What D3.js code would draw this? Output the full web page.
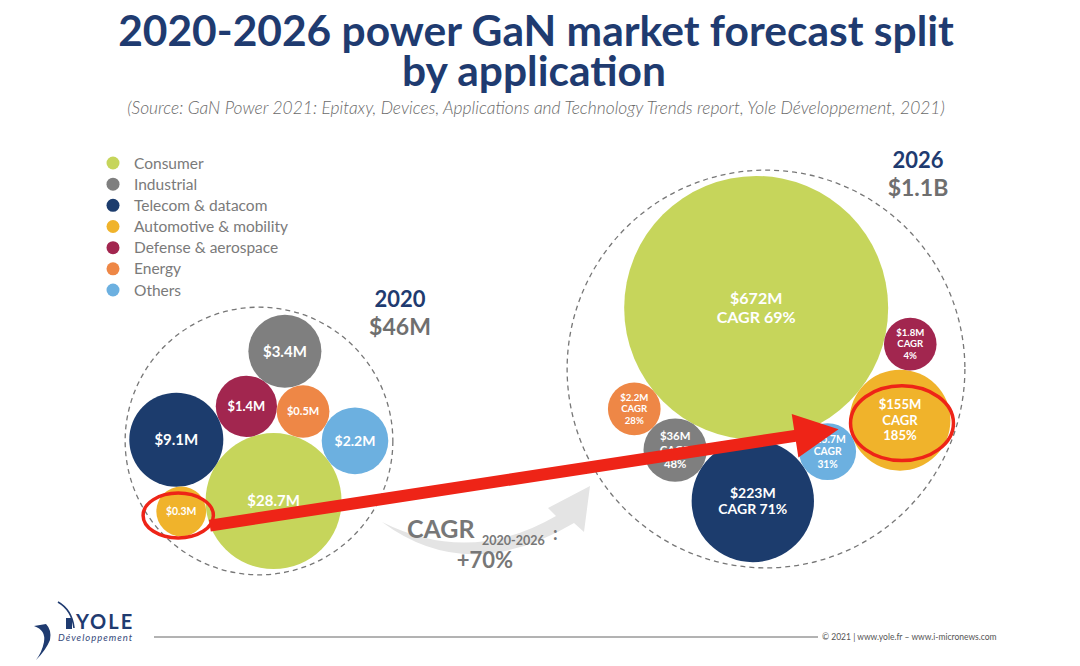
<!DOCTYPE html>
<html>
<head>
<meta charset="utf-8">
<script src="https://cdn.jsdelivr.net/npm/d3@7"></script>
<style>
  body { margin: 0; background: #fff; }
  svg { display: block; font-family: Lato, "Open Sans", sans-serif; }
</style>
</head>
<body>
<script>
const width = 1080;
const height = 666;

// data
const categories = [
  'Consumer',
  'Industrial',
  'Telecom & datacom',
  'Automotive & mobility',
  'Defense & aerospace',
  'Energy',
  'Others'
];
const values2020 = [28.7, 3.4, 9.1, 0.3, 1.4, 0.5, 2.2];   // $M
const values2026 = [672, 36, 223, 155, 1.8, 2.2, 15.7];   // $M
const cagr2026 = [69, 48, 71, 185, 4, 28, 31];            // % (Industrial hidden under the arrow, estimated)
const years = ['2020', '2026'];
const totals = ['$46M', '$1.1B'];
const cagrPeriod = '2020-2026';
const cagrTotal = '+70%';

const colors = ['#c6d55b', '#7f7f7f', '#1c3c6d', '#f0b32b', '#a2264f', '#ee8746', '#6cb0e0'];
const navy = '#1f3b70';
const grey = '#6f6f6f';

const svg = d3.select('body')
  .append('svg')
  .attr('width', width)
  .attr('height', height);

// ---- title ----
function fitText(sel, target) {
  const fs = parseFloat(sel.attr('font-size'));
  const w = sel.node().getComputedTextLength();
  sel.attr('font-size', fs * target / w);
  return fs * target / w;
}

const t1 = svg.append('text')
  .attr('x', 536).attr('y', 46)
  .attr('text-anchor', 'middle')
  .attr('font-size', 38).attr('font-weight', 700)
  .attr('fill', navy)
  .text('2020-2026 power GaN market forecast split');
const titleSize = fitText(t1, 836);

svg.append('text')
  .attr('x', 534).attr('y', 86)
  .attr('text-anchor', 'middle')
  .attr('font-size', titleSize).attr('font-weight', 700)
  .attr('fill', navy)
  .text('by application');

const sub = svg.append('text')
  .attr('x', 536).attr('y', 114)
  .attr('text-anchor', 'middle')
  .attr('font-size', 16).attr('font-style', 'italic').attr('font-weight', 300)
  .attr('fill', '#6a6a6a')
  .text('(Source: GaN Power 2021: Epitaxy, Devices, Applications and Technology Trends report, Yole Développement, 2021)');
fitText(sub, 818);

// ---- legend ----
const legendY = d3.scaleLinear().domain([0, categories.length - 1]).range([163, 290]);
const legend = svg.append('g');
legend.selectAll('circle')
  .data(categories)
  .enter()
  .append('circle')
  .attr('cx', 113)
  .attr('cy', (d, i) => legendY(i))
  .attr('r', 6.5)
  .attr('fill', (d, i) => colors[i]);
legend.selectAll('text')
  .data(categories)
  .enter()
  .append('text')
  .attr('x', 134)
  .attr('y', (d, i) => legendY(i))
  .attr('dy', '0.36em')
  .attr('font-size', 15.5)
  .attr('fill', '#7a7a7a')
  .text(d => d);

// ---- gray swoosh + CAGR ----
svg.append('path')
  .attr('d', 'M382,522 Q470,566 556,516 L548,508 L590,486 L584,532 L574,523 Q468,586 382,522 Z')
  .attr('fill', '#e4e4e4');

svg.append('text')
  .attr('x', 407).attr('y', 538)
  .attr('font-size', 25).attr('font-weight', 700).attr('fill', '#777')
  .text('CAGR');
svg.append('text')
  .attr('x', 482).attr('y', 545)
  .attr('font-size', 12.5).attr('font-weight', 700).attr('fill', '#777')
  .text(cagrPeriod);
svg.append('text')
  .attr('x', 553).attr('y', 540)
  .attr('font-size', 18).attr('font-weight', 700).attr('fill', '#777')
  .text(':');
svg.append('text')
  .attr('x', 485).attr('y', 568)
  .attr('text-anchor', 'middle')
  .attr('font-size', 22).attr('font-weight', 700).attr('fill', '#777')
  .text(cagrTotal);

// ---- bubble clusters ----
const rScale2020 = d3.scaleSqrt().domain([0, d3.max(values2020)]).range([20, 68]);
const rScale2026 = d3.scaleLinear().domain([0, d3.max(values2026)]).range([26, 132]);

// pack order + rotation decide the arrangement of each cluster
const clusters = [
  { values: values2020, rScale: rScale2020, order: [0, 4, 5, 2, 6, 3, 1], angle: -106, cx: 259, cy: 441, pad: 4 },
  { values: values2026, rScale: rScale2026, order: [0, 2, 1, 6, 3, 5, 4], angle: 91, cx: 766, cy: 369, pad: 5 }
];

clusters.forEach(function (c) {
  const nodes = c.order.map(function (i) {
    return { i: i, value: c.values[i], r: c.rScale(c.values[i]) };
  });
  d3.packSiblings(nodes);
  const enc = d3.packEnclose(nodes);
  const a = c.angle * Math.PI / 180;
  nodes.forEach(function (d) {
    const x = d.x - enc.x, y = d.y - enc.y;
    d.px = c.cx + x * Math.cos(a) - y * Math.sin(a);
    d.py = c.cy + x * Math.sin(a) + y * Math.cos(a);
  });
  c.nodes = nodes;
  c.r = enc.r + c.pad;
});

clusters.forEach(function (c) {
  svg.append('circle')
    .attr('cx', c.cx).attr('cy', c.cy).attr('r', c.r)
    .attr('fill', 'none')
    .attr('stroke', '#777')
    .attr('stroke-width', 1.3)
    .attr('stroke-dasharray', '5,4');
});

function money(v) {
  return '$' + v + 'M';
}

// 2020
const g2020 = svg.append('g');
g2020.selectAll('circle')
  .data(clusters[0].nodes)
  .enter()
  .append('circle')
  .attr('cx', d => d.px)
  .attr('cy', d => d.py)
  .attr('r', d => d.r)
  .attr('fill', d => colors[d.i]);
g2020.selectAll('text')
  .data(clusters[0].nodes)
  .enter()
  .append('text')
  .attr('x', d => d.px)
  .attr('y', d => d.py)
  .attr('dy', '0.35em')
  .attr('text-anchor', 'middle')
  .attr('font-weight', 700)
  .attr('font-size', d => Math.min(15, d.r * 0.42))
  .attr('fill', '#fff')
  .text(d => money(d.value));

// 2026
const fontScale = d3.scaleLinear().domain([26, 32, 61, 132]).range([9.5, 11.5, 14, 16]).clamp(true);
const g2026 = svg.append('g');
g2026.selectAll('circle')
  .data(clusters[1].nodes)
  .enter()
  .append('circle')
  .attr('cx', d => d.px)
  .attr('cy', d => d.py)
  .attr('r', d => d.r)
  .attr('fill', d => colors[d.i]);
const labels2026 = g2026.selectAll('text')
  .data(clusters[1].nodes)
  .enter()
  .append('text')
  .attr('text-anchor', 'middle')
  .attr('font-weight', 700)
  .attr('font-size', d => fontScale(d.r))
  .attr('fill', '#fff');
labels2026.each(function (d) {
  const lines = d.r > 55
    ? [money(d.value), 'CAGR ' + cagr2026[d.i] + '%']
    : [money(d.value), 'CAGR', cagr2026[d.i] + '%'];
  const lh = 1.2;
  d3.select(this).selectAll('tspan')
    .data(lines)
    .enter()
    .append('tspan')
    .attr('x', d.px)
    .attr('y', d.py)
    .attr('dy', (l, k) => ((k - (lines.length - 1) / 2) * lh + 0.35) + 'em')
    .text(l => l);
});

// year labels
const yearPos = [[400, 307], [918, 168]];
years.forEach(function (y, k) {
  svg.append('text')
    .attr('x', yearPos[k][0]).attr('y', yearPos[k][1])
    .attr('text-anchor', 'middle')
    .attr('font-size', 22).attr('font-weight', 700).attr('fill', navy)
    .text(y);
  svg.append('text')
    .attr('x', yearPos[k][0]).attr('y', yearPos[k][1] + 28)
    .attr('text-anchor', 'middle')
    .attr('font-size', 23).attr('font-weight', 700).attr('fill', grey)
    .text(totals[k]);
});

// ---- red annotation: automotive 2020 -> 2026 ----
const auto0 = clusters[0].nodes.find(d => d.i === 3);
const auto1 = clusters[1].nodes.find(d => d.i === 3);
const red = '#ee2417';
const e0 = { x: auto0.px - 3, y: auto0.py + 4, rx: auto0.r * 1.25 + 4, ry: auto0.r * 0.78 + 3 };
const e1 = { x: auto1.px + 2, y: auto1.py + 3, rx: auto1.r + 1, ry: auto1.r * 0.74 };
[e0, e1].forEach(function (e) {
  svg.append('ellipse')
    .attr('cx', e.x).attr('cy', e.y)
    .attr('rx', e.rx).attr('ry', e.ry)
    .attr('fill', 'none')
    .attr('stroke', red)
    .attr('stroke-width', 3.5);
});

const start = [e0.x + e0.rx * 0.9, e0.y + e0.ry * 0.45];
const tip = [e1.x - e1.rx - 12, e1.y + 6];
const ang = Math.atan2(tip[1] - start[1], tip[0] - start[0]);
const ux = Math.cos(ang), uy = Math.sin(ang);
const nx = -uy, ny = ux;
const headLen = 44, headW = 22, shaftW = 6;
const base = [tip[0] - ux * headLen, tip[1] - uy * headLen];
const arrowPts = [
  [start[0] + nx * shaftW, start[1] + ny * shaftW],
  [base[0] + nx * shaftW, base[1] + ny * shaftW],
  [base[0] + nx * headW, base[1] + ny * headW],
  tip,
  [base[0] - nx * headW, base[1] - ny * headW],
  [base[0] - nx * shaftW, base[1] - ny * shaftW],
  [start[0] - nx * shaftW, start[1] - ny * shaftW]
];
svg.append('path')
  .attr('d', d3.line()(arrowPts) + 'Z')
  .attr('fill', red);

// ---- footer ----
const foot = svg.append('g');
foot.append('path')
  .attr('d', 'M34,626 Q46,630 44,642 Q42,652 36,660 Q46,650 50,640 Q52,630 46,624 Z')
  .attr('fill', navy);
foot.append('path')
  .attr('d', 'M58,602 Q72,610 74,628')
  .attr('fill', 'none')
  .attr('stroke', navy)
  .attr('stroke-width', 1.6);
foot.append('rect')
  .attr('x', 66).attr('y', 618).attr('width', 6).attr('height', 11)
  .attr('fill', navy);
foot.append('text')
  .attr('x', 76).attr('y', 629)
  .attr('font-size', 20).attr('font-weight', 700)
  .attr('letter-spacing', 2)
  .attr('fill', navy)
  .text('YOLE');
foot.append('text')
  .attr('x', 58).attr('y', 641)
  .attr('font-size', 9.5).attr('font-style', 'italic')
  .attr('letter-spacing', 1)
  .attr('fill', '#34487a')
  .text('Développement');
foot.append('line')
  .attr('x1', 154).attr('x2', 818)
  .attr('y1', 637).attr('y2', 637)
  .attr('stroke', '#666')
  .attr('stroke-width', 1);
foot.append('text')
  .attr('x', 822).attr('y', 640)
  .attr('font-size', 8.5)
  .attr('fill', '#555')
  .text('© 2021 | www.yole.fr – www.i-micronews.com');
</script>
</body>
</html>
